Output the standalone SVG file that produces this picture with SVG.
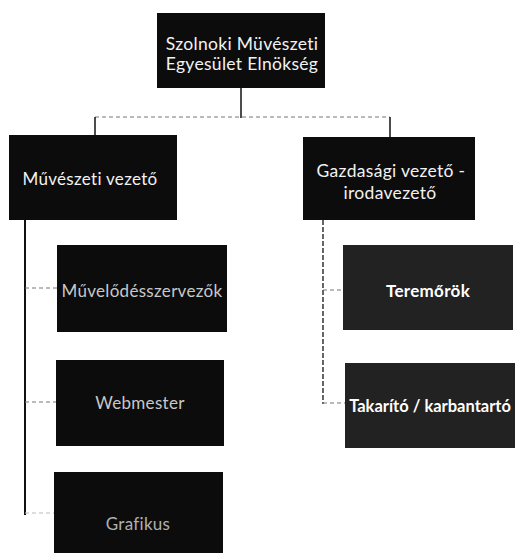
<svg xmlns="http://www.w3.org/2000/svg" width="515" height="553" viewBox="0 0 515 553">
<style>
.box{fill:#0c0c0c}
.box2{fill:#222}
.t{font-family:Lato,"Open Sans","Liberation Sans",sans-serif;font-size:17px;fill:#f2f2f2;text-anchor:middle;dominant-baseline:central;letter-spacing:0.3px}
.big{font-size:17.5px}
.dim{fill:#c8c8c8}
.dim2{fill:#b0b0b0}
.b{font-weight:bold;fill:#fff}
.tk{font-size:16.5px;letter-spacing:0}
.solid{stroke:#111;stroke-width:2;fill:none}
.thin{stroke-width:1.5}
.dash{stroke:#777;stroke-width:1;stroke-dasharray:4 3;fill:none}
.faint{stroke:#bbb}
.dash2{stroke:#333;stroke-width:1.5;stroke-dasharray:5 2;fill:none}
</style>
<rect width="515" height="553" fill="#fff"/>
<g id="connectors">
<line class="solid thin" x1="241" y1="88" x2="241" y2="118"/>
<line class="dash" x1="95" y1="117" x2="390" y2="117"/>
<line class="solid thin" x1="95" y1="117" x2="95" y2="135"/>
<line class="solid thin" x1="390" y1="117" x2="390" y2="137"/>
<line class="solid" x1="25" y1="220" x2="25" y2="515"/>
<line class="dash" x1="25" y1="288" x2="57" y2="288"/>
<line class="dash" x1="25" y1="402" x2="56" y2="402"/>
<line class="dash faint" x1="25" y1="513" x2="54" y2="513"/>
<line class="dash2" x1="323" y1="220" x2="323" y2="404"/>
<line class="dash" x1="323" y1="290" x2="343" y2="290"/>
<line class="dash" x1="323" y1="403" x2="345" y2="403"/>
</g>
<g id="n-elnokseg">
<rect class="box" x="157" y="13" width="168" height="75"/>
<text class="t big" x="242" y="43">Szolnoki Müvészeti</text>
<text class="t big" x="242" y="63">Egyesület Elnökség</text>
</g>
<g id="n-muveszeti">
<rect class="box" x="9" y="135" width="168" height="85"/>
<text class="t" x="90" y="178">Művészeti vezető</text>
</g>
<g id="n-gazdasagi">
<rect class="box" x="303" y="137" width="172" height="83"/>
<text class="t big" x="391" y="170">Gazdasági vezető -</text>
<text class="t big" x="390" y="192">irodavezető</text>
</g>
<g id="n-muvelodes">
<rect class="box" x="57" y="245" width="170" height="87"/>
<text class="t dim" x="142" y="290">Művelődésszervezők</text>
</g>
<g id="n-webmester">
<rect class="box" x="56" y="360" width="168" height="86"/>
<text class="t dim" x="140" y="402">Webmester</text>
</g>
<g id="n-grafikus">
<rect class="box" x="54" y="472" width="169" height="86"/>
<text class="t dim2" x="138" y="523">Grafikus</text>
</g>
<g id="n-teremorok">
<rect class="box2" x="343" y="245" width="170" height="85"/>
<text class="t b" x="428" y="290">Teremőrök</text>
</g>
<g id="n-takarito">
<rect class="box2" x="345" y="363" width="170" height="85"/>
<text class="t b tk" x="430" y="406">Takarító / karbantartó</text>
</g>
</svg>
